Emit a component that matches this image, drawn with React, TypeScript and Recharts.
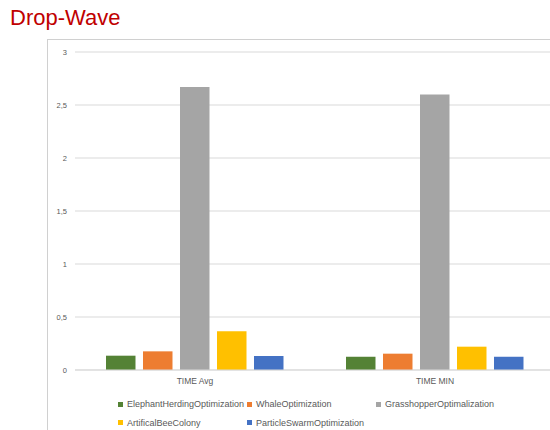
import React from 'react';
import { BarChart, Bar, XAxis, YAxis, CartesianGrid, Legend } from 'recharts';

const categories = ['TIME Avg', 'TIME MIN'];
const seriesNames = [
  'ElephantHerdingOptimization',
  'WhaleOptimization',
  'GrasshopperOptimalization',
  'ArtificalBeeColony',
  'ParticleSwarmOptimization',
];
const elephantHerding = [0.135, 0.125];
const whale = [0.176, 0.154];
const grasshopper = [2.67, 2.6];
const beeColony = [0.365, 0.22];
const particleSwarm = [0.132, 0.125];
const yTicks = [0, 0.5, 1, 1.5, 2, 2.5, 3];

const colors = ['#548235', '#ed7d31', '#a5a5a5', '#ffc000', '#4472c4'];
const seriesKeys = ['eho', 'whale', 'grass', 'abc', 'pso'];
const seriesValues = [elephantHerding, whale, grasshopper, beeColony, particleSwarm];

const data = categories.map((name, i) => {
  const row: Record<string, string | number> = { name };
  seriesKeys.forEach((k, s) => {
    row[k] = seriesValues[s][i];
  });
  return row;
});

const FONT = '"Liberation Sans", Arial, sans-serif';
const TEXT = '#595959';

// two-row legend laid out on a fixed column grid, kept in series order
const renderLegend = (props: any) => {
  const items = [...(props.payload || [])].sort(
    (a: any, b: any) => seriesNames.indexOf(a.value) - seriesNames.indexOf(b.value)
  );
  return (
    <div style={{ display: 'flex', flexWrap: 'wrap', width: 390, marginLeft: 70 }}>
      {items.map((entry: any) => (
        <div
          key={entry.value}
          style={{ width: 129, height: 18.4, display: 'flex', alignItems: 'center', fontSize: 9, color: TEXT }}
        >
          <span style={{ width: 5, height: 5, background: entry.color, marginRight: 4, flexShrink: 0 }} />
          <span style={{ whiteSpace: 'nowrap' }}>{entry.value}</span>
        </div>
      ))}
    </div>
  );
};

export default function App() {
  return (
    <div
      style={{
        position: 'fixed',
        left: 0,
        top: 0,
        width: 550,
        height: 430,
        overflow: 'hidden',
        background: '#fff',
        fontFamily: FONT,
      }}
    >
      <div
        style={{
          position: 'absolute',
          left: 10,
          top: 4,
          fontSize: 22,
          color: '#c00000',
          lineHeight: '28px',
        }}
      >
        Drop-Wave
      </div>
      <div
        style={{
          position: 'absolute',
          left: 47,
          top: 39,
          width: 520,
          height: 400,
          borderTop: '1px solid #d0d0d0',
          borderLeft: '1px solid #d0d0d0',
        }}
      >
        <BarChart
          width={520}
          height={400}
          data={data}
          margin={{ top: 12, right: 13, left: 0, bottom: 40 }}
          barSize={29.5}
          barGap={7.5}
        >
          <CartesianGrid vertical={false} stroke="#d9d9d9" />
          <XAxis
            dataKey="name"
            tickLine={false}
            axisLine={{ stroke: '#d9d9d9' }}
            tick={{ fontSize: 8.5, fill: TEXT, fontFamily: FONT }}
          />
          <YAxis
            width={27}
            domain={[0, 3]}
            ticks={yTicks}
            interval={0}
            tickLine={false}
            axisLine={false}
            tick={{ fontSize: 7.5, fill: TEXT, fontFamily: FONT }}
            tickFormatter={(v: number) => String(v).replace('.', ',')}
          />
          <Legend
            layout="horizontal"
            verticalAlign="middle"
            align="center"
            content={renderLegend}
            wrapperStyle={{ top: 355, left: 0, width: 520 }}
          />
          {seriesKeys.map((k, s) => (
            <Bar key={k} dataKey={k} name={seriesNames[s]} fill={colors[s]} isAnimationActive={false} />
          ))}
        </BarChart>
      </div>
    </div>
  );
}
